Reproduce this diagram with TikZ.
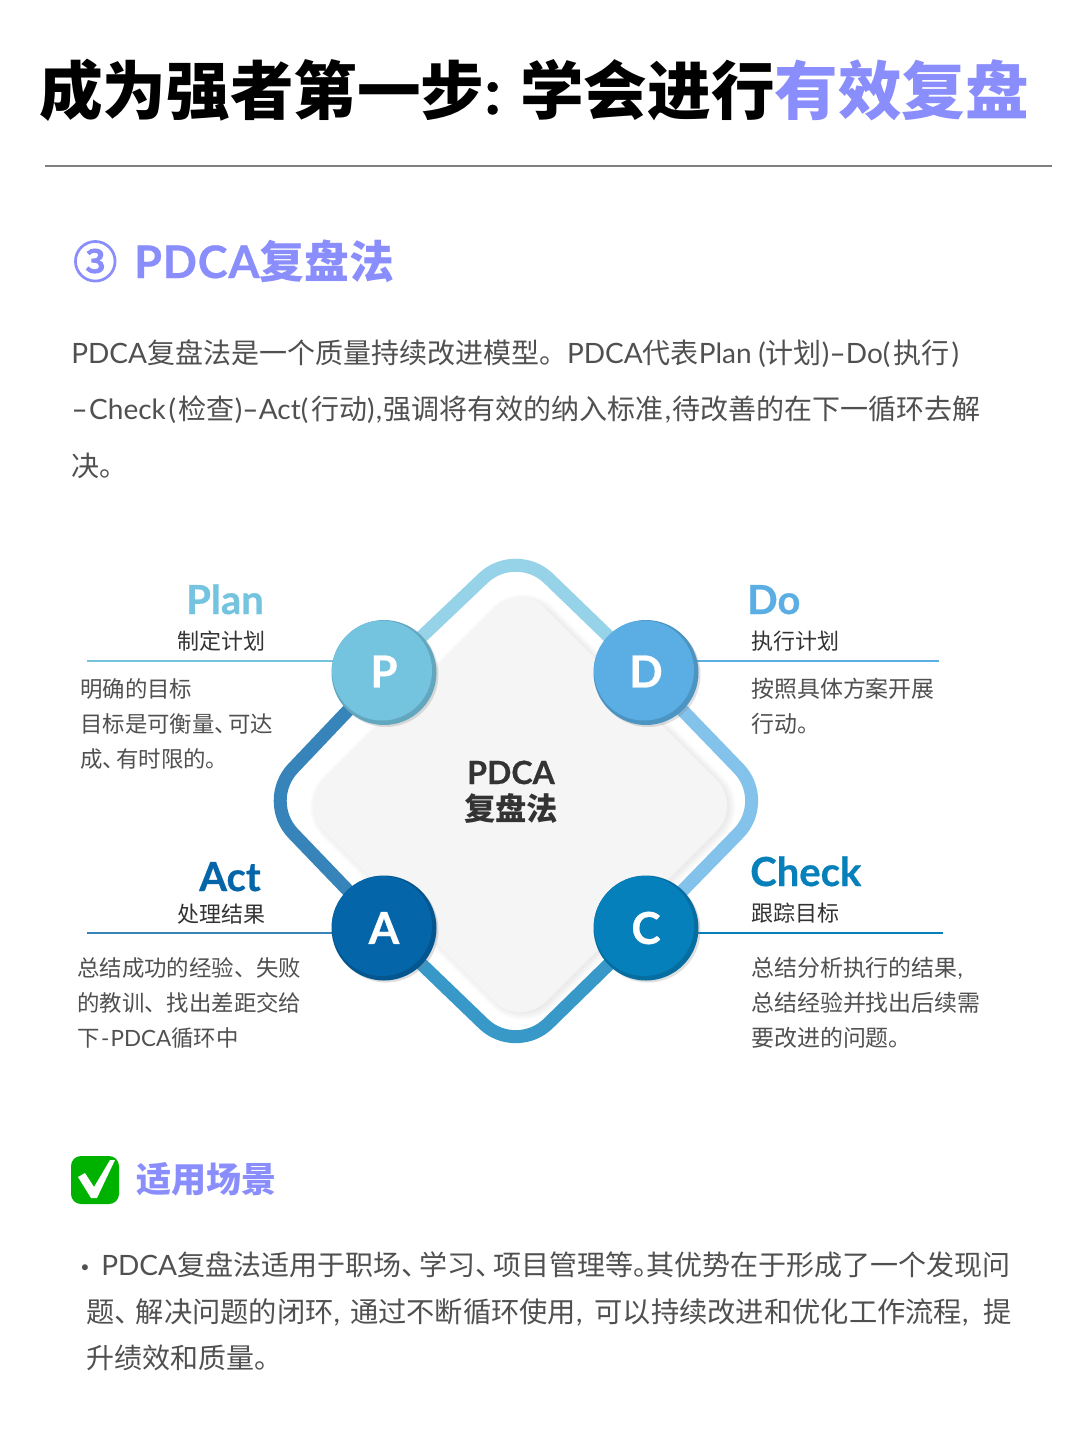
\documentclass[tikz,border=0pt]{standalone}
\usepackage{fontspec}
\usepackage{xcolor}
\usetikzlibrary{shadows,backgrounds}
\setmainfont{Noto Sans CJK SC}
\newfontfamily\la[BoldFeatures={FakeBold=0.6}]{Lato}
\newfontfamily\numfont[FakeBold=3]{Noto Sans CJK SC}
\newcommand{\wh}{\scalebox{1.6}[1]{-}}
\definecolor{violet}{HTML}{8A8DFC}
\definecolor{bodyink}{HTML}{505050}
\definecolor{labelink}{HTML}{333333}
\definecolor{planblue}{HTML}{74C4E0}
\definecolor{doblue}{HTML}{5AAEE4}
\definecolor{checkblue}{HTML}{0680BB}
\definecolor{actblue}{HTML}{0565A9}
\begin{document}
\begin{tikzpicture}[x=0.75pt,y=-0.75pt]
				\tikzstyle{every node}+=[inner sep=0pt]
				\tikzstyle{title}=[anchor=base west,font=\fontsize{47.7}{48}\selectfont\bfseries,text=black]
				\tikzstyle{heading}=[anchor=base west,font=\fontsize{33.6}{34}\selectfont\bfseries,text=violet]
				\tikzstyle{para}=[anchor=base west,font=\fontsize{21}{21}\selectfont,text=bodyink]
				\tikzstyle{note}=[anchor=base west,font=\fontsize{16.8}{17}\selectfont,text=bodyink]
				\tikzstyle{noter}=[anchor=base west,font=\fontsize{17.2}{17}\selectfont,text=bodyink]
				\tikzstyle{sublabel}=[anchor=base west,font=\fontsize{16.5}{17}\selectfont,text=labelink]
				\tikzstyle{stage}=[anchor=base west,font=\fontsize{30}{30}\selectfont\la\bfseries]
				\tikzstyle{ball}=[circle,minimum size=78.75pt,text=white,font=\fontsize{33}{33}\selectfont\la\bfseries,drop shadow={opacity=0.25,shadow xshift=1.5pt,shadow yshift=-1.5pt}]
				\tikzstyle{ring}=[line width=9.75pt,rounded corners=33.75pt]
				\tikzstyle{leader}=[line width=0.8pt]
				\useasboundingbox (0,0) rectangle (1080,1439);
				\node [title] (head) at (39,114) {成为强者第一步{\la:} 学会进行\textcolor{violet}{有效复盘}};
				\coordinate (rulea) at (45,166);
				\coordinate (ruleb) at (1052,166);
				\draw [black!50,line width=0.8pt] (rulea) -- (ruleb);
				\node [anchor=base west,font=\fontsize{33}{34}\selectfont\numfont,text=violet] (num) at (73,278) {③};
				\node [heading] (pdcahead) at (134,278) {{\la\addfontfeature{LetterSpace=2}PDCA}复盘法};
				\node [para] (intro1) at (71,363) {{\la PDCA}复盘法是一个质量持续改进模型。{\la PDCA}代表{\la Plan\kern5pt(}计划{\la )\wh Do(\kern2pt}执行{\la\kern2pt)}};
				\node [para] (intro2) at (71,419) {{\la\wh\kern1ptCheck\kern2pt(\kern2pt}检查{\la )\wh Act(\kern2pt}行动{\la )\kern1pt,\kern1pt}强调将有效的纳入标准{\la\kern1pt,\kern1pt}待改善的在下一循环去解};
				\node [para] (intro3) at (71,476) {决。};
				\node [ball,fill=planblue!85!black,path picture={\fill [planblue] ([shift={(-2,-2)}]path picture bounding box.center) circle (50);}] (P) at (384,672.5) {\raisebox{1.5pt}{P}};
				\node [ball,fill=doblue!85!black,path picture={\fill [doblue] ([shift={(-2,-2)}]path picture bounding box.center) circle (50);}] (D) at (646,672.5) {\raisebox{1.5pt}{D}};
				\node [ball,fill=actblue!85!black,path picture={\fill [actblue] ([shift={(-2,-2)}]path picture bounding box.center) circle (50);}] (A) at (384,928) {\raisebox{-2.25pt}{A}};
				\node [ball,fill=checkblue!85!black,path picture={\fill [checkblue] ([shift={(-2,-2)}]path picture bounding box.center) circle (50);}] (C) at (646,928) {\raisebox{-2.25pt}{C}};
				\coordinate (ringtop) at (516,547);
				\coordinate (ringright) at (770,801);
				\coordinate (ringbottom) at (516,1055);
				\coordinate (ringleft) at (262,801);
				\coordinate (planline) at (87,661);
				\coordinate (doline) at (939,661);
				\coordinate (actline) at (87,933);
				\coordinate (checkline) at (943,933);
				\begin{scope}[on background layer]
				\fill [white] (0,0) rectangle (1080,1439);
				\draw [ring,color=planblue!75!white] (P.center) -- (ringtop) -- (D.center);
				\draw [ring,color=doblue!75!white] (D.center) -- (ringright) -- (C.center);
				\draw [ring,color=checkblue!80!white] (C.center) -- (ringbottom) -- (A.center);
				\draw [ring,color=actblue!80!white] (A.center) -- (ringleft) -- (P.center);
				\foreach \w in {1,2,...,10}
					\draw [black,opacity=0.008,line width=\w*1.2pt,rounded corners=27pt] (523,587) -- (743,807) -- (523,1027) -- (303,807) -- cycle;
				\fill [black!4,rounded corners=27pt] (520,583) -- (742,805) -- (520,1027) -- (298,805) -- cycle;
				\draw [leader,color=planblue] (planline) -- (planline -| P.center);
				\draw [leader,color=doblue] (doline) -- (doline -| D.center);
				\draw [leader,color=actblue!80!white] (actline) -- (actline -| A.center);
				\draw [leader,color=checkblue] (checkline) -- (checkline -| C.center);
				\end{scope}
				\node [anchor=base,font=\fontsize{24}{24}\selectfont\la\bfseries,text=labelink] (center1) at (511,784) {PDCA};
				\node [anchor=base,font=\fontsize{23.5}{24}\selectfont\bfseries,text=labelink] (center2) at (511,820) {复盘法};
				\node [stage,text=planblue] (plan) at (186,614) {Plan};
				\node [sublabel] (plansub) at (177,649) {制定计划};
				\node [note] (plan1) at (80,697) {明确的目标};
				\node [note] (plan2) at (80,732) {目标是可衡量、\kern-6.6pt 可达};
				\node [note] (plan3) at (80,767) {成、\kern-6.6pt 有时限的。};
				\node [stage,text=doblue] (do) at (747,614) {Do};
				\node [sublabel] (dosub) at (751,649) {执行计划};
				\node [noter] (do1) at (751,697) {按照具体方案开展};
				\node [noter] (do2) at (751,732) {行动。};
				\node [stage,text=actblue] (act) at (199,891) {Act};
				\node [sublabel] (actsub) at (177,922) {处理结果};
				\node [note] (act1) at (77,976) {总结成功的经验、失败};
				\node [note] (act2) at (77,1011) {的教训、找出差距交给};
				\node [note] (act3) at (77,1046) {下{\la\kern1pt-\kern1pt PDCA}循环中};
				\node [stage,text=checkblue] (check) at (750,886) {Check};
				\node [sublabel] (checksub) at (751,921) {跟踪目标};
				\node [noter] (check1) at (751,976) {总结分析执行的结果{\la ,}};
				\node [noter] (check2) at (751,1011) {总结经验并找出后续需};
				\node [noter] (check3) at (751,1046) {要改进的问题。};
				\node [rounded corners=7.5pt,minimum size=36pt,fill=green!70!black] (tick) at (95,1180) {};
				\fill [white] (78,1177) -- (85,1173) -- (94,1187) -- (110,1160) -- (115,1160) -- (97,1198) -- (91,1198) -- cycle;
				\node [anchor=base west,font=\fontsize{26.3}{26}\selectfont\bfseries,text=violet] (scene) at (136,1192) {适用场景};
				\node [anchor=base,font=\fontsize{12}{12}\selectfont\la,text=bodyink] (dot) at (85,1272) {•};
				\node [para] (use1) at (101,1275) {{\la PDCA}复盘法适用于职场、\kern-7.5pt 学习、\kern-7.5pt 项目管理等。\kern-11pt 其优势在于形成了一个发现问};
				\node [para,font=\fontsize{21.2}{21}\selectfont] (use2) at (86,1322) {题、\kern-5.25pt 解决问题的闭环{\la ,\kern7.5pt}通过不断循环使用{\la ,\kern9pt}可以持续改进和优化工作流程{\la ,\kern11pt}提};
				\node [para] (use3) at (86,1368) {升绩效和质量。};
				\end{tikzpicture}
\end{document}
